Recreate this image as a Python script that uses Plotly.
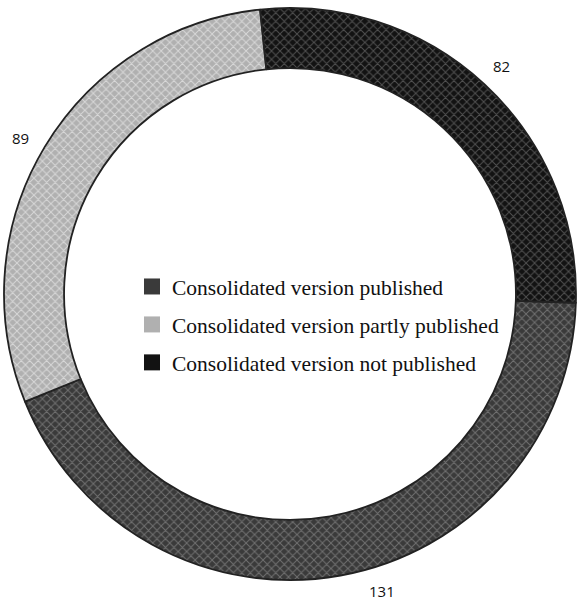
import math
import plotly.graph_objects as go

# Publication status of consolidated versions
labels = [
    "Consolidated version published",
    "Consolidated version partly published",
    "Consolidated version not published",
]
counts = [131, 89, 82]

# Slice styling: base colour and the lighter grain laid over it
fill_colors = ["#3a3a3a", "#b0b0b0", "#121212"]
grain_colors = ["#707070", "#d8d8d8", "#505050"]

W, H = 578, 605
CX, CY, R = 290, 294, 286      # ring centre and outer radius in pixels
HOLE = 0.79
NP_START = -6.0                # "not published" begins just left of 12 o'clock
LABEL_R = 327                  # value labels sit just outside the ring

total = sum(counts)
spans = [360.0 * c / total for c in counts]
rotation = NP_START + spans[2]  # first slice (published) follows "not published"

fig = go.Figure()

fig.add_trace(go.Pie(
    labels=labels,
    values=counts,
    sort=False,
    direction="clockwise",
    rotation=rotation,
    hole=HOLE,
    textinfo="none",
    showlegend=False,
    domain=dict(x=[(CX - R) / W, (CX + R) / W],
                y=[1 - (CY + R) / H, 1 - (CY - R) / H]),
    marker=dict(
        colors=fill_colors,
        line=dict(color="#222222", width=1.8),
        pattern=dict(
            shape="x",
            fillmode="replace",
            bgcolor=fill_colors,
            fgcolor=grain_colors,
            size=6,
            solidity=0.3,
        ),
    ),
))

# Legend entries (square swatches, one group each so rows can be spaced)
for i, name in enumerate(labels):
    fig.add_trace(go.Scatter(
        x=[None], y=[None], mode="markers", name=name,
        legendgroup=f"g{i}", showlegend=True,
        marker=dict(symbol="square", size=16, color=fill_colors[i],
                    line=dict(width=0)),
    ))

# Value labels placed outward from each slice's mid-angle, kept on the canvas
start = rotation
for c, span in zip(counts, spans):
    mid = math.radians(start + span / 2)
    px = CX + LABEL_R * math.sin(mid)
    py = CY - LABEL_R * math.cos(mid)
    if py > H - 2:
        cos_t = -(H - 2 - CY) / LABEL_R
        ang = math.acos(cos_t)
        px = CX + LABEL_R * math.sin(ang)
        py = H - 2
    fig.add_annotation(
        x=px / W, y=1 - py / H, xref="paper", yref="paper",
        text=str(c), showarrow=False,
        font=dict(family="Open Sans", size=15, color="#111"),
    )
    start += span

fig.update_layout(
    width=W, height=H,
    margin=dict(l=0, r=0, t=0, b=0),
    paper_bgcolor="white",
    plot_bgcolor="white",
    xaxis=dict(visible=False),
    yaxis=dict(visible=False),
    legend=dict(
        x=132 / W, y=1 - 266 / H, xanchor="left", yanchor="top",
        font=dict(family="Liberation Serif", size=21.5, color="#111"),
        tracegroupgap=7,
        bgcolor="rgba(0,0,0,0)",
    ),
)

fig.write_html("out.html")
